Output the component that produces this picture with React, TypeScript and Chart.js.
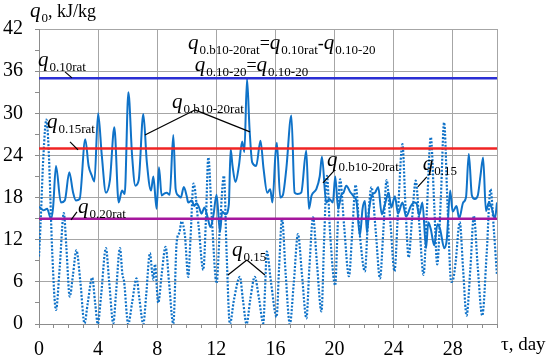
import React, { useEffect, useRef } from 'react';
import { Chart, registerables } from 'chart.js';

Chart.register(...registerables);

// ---- data ----
const solidDays = [
  0.0, 0.3, 0.55, 0.81, 0.95, 1.15, 1.48, 1.75, 2.05, 2.3, 2.5, 2.75, 3.13, 3.36, 3.58, 3.75,
  4.0, 4.25, 4.53, 4.8, 5.1, 5.39, 5.62, 5.8, 6.05, 6.3, 6.52, 6.75, 7.06, 7.3, 7.58, 7.74,
  7.96, 8.12, 8.3, 8.5, 8.64, 8.85, 9.09, 9.25, 9.43, 9.6, 9.8, 10.0, 10.1, 10.35, 10.5, 10.67,
  10.85, 11.0, 11.2, 11.4, 11.6, 11.8, 12.02, 12.25, 12.4, 12.63, 12.85, 12.97, 13.1, 13.3,
  13.53, 13.75, 13.9, 14.08, 14.25, 14.43, 14.7, 14.99, 15.2, 15.45, 15.65, 15.8, 16.0, 16.1,
  16.33, 16.5, 16.74, 17.08, 17.3, 17.5, 17.75, 18.09, 18.27, 18.45, 18.77, 19.0, 19.15, 19.44,
  19.65, 19.89, 20.05, 20.25, 20.45, 20.61, 20.8, 21.06, 21.25, 21.5, 21.72, 21.9, 22.06, 22.2,
  22.35, 22.53, 22.75, 22.96, 23.2, 23.41, 23.66, 23.85, 24.09, 24.3, 24.6, 24.85, 25.17, 25.4,
  25.55, 25.73, 25.95, 26.2, 26.35, 26.52, 26.75, 26.97, 27.15, 27.43, 27.6, 27.83, 28.0, 28.26,
  28.44, 28.71, 28.9, 29.09, 29.3, 29.5, 29.7, 29.88, 30.06, 30.25, 30.45, 30.63, 30.86, 31.0,
];
const solidValues = [
  16.7, 16.2, 16.4, 15.0, 16.5, 22.5, 17.3, 17.6, 21.6, 18.8, 17.6, 17.8, 26.3, 22.5, 21.1, 20.3,
  30.0, 24.0, 18.7, 20.5, 28.0, 17.3, 19.0, 18.5, 33.0, 24.0, 19.7, 20.5, 29.9, 23.0, 19.0, 21.0,
  16.4, 22.3, 18.3, 18.6, 18.7, 18.4, 26.9, 19.2, 18.3, 18.0, 19.5, 18.2, 17.3, 17.6, 16.8, 17.2,
  16.5, 15.7, 16.6, 15.3, 13.8, 15.4, 18.4, 13.1, 16.0, 15.6, 17.0, 24.9, 22.5, 20.2,
  22.5, 26.0, 24.5, 34.9, 27.8, 23.0, 22.5, 26.1, 22.1, 18.7, 19.2, 17.3, 24.0, 25.8,
  18.0, 18.3, 22.1, 29.7, 18.7, 18.5, 18.7, 24.7, 16.4, 18.3, 19.2, 21.0, 23.8, 17.3,
  17.8, 17.3, 21.0, 16.4, 18.3, 18.7, 19.7, 18.8, 18.3, 17.3, 12.6, 16.4, 17.5, 13.0,
  16.4, 18.3, 18.7, 19.5, 15.6, 17.0, 18.7, 16.6, 18.2, 15.7, 17.3, 15.3, 16.8, 17.3,
  17.2, 15.5, 17.3, 10.8, 14.5, 13.5, 11.2, 14.2, 13.5, 10.8, 12.0, 19.0, 16.0, 16.8,
  15.0, 17.3, 18.0, 24.2, 18.3, 17.8, 18.3, 21.1, 23.7, 16.1, 17.3, 16.6, 15.0, 17.3,
];

const dottedDays = [
  0.0, 0.1, 0.3, 0.5, 0.65, 0.9, 1.15, 1.4, 1.68, 1.85, 2.08, 2.3, 2.53, 2.8, 3.08, 3.3, 3.6,
  3.8, 3.98, 4.2, 4.53, 4.75, 5.03, 5.2, 5.48, 5.65, 5.75, 6.04, 6.3, 6.6, 6.8, 7.06, 7.25,
  7.51, 7.65, 7.74, 7.85, 8.07, 8.3, 8.57, 8.8, 9.09, 9.32, 9.5, 9.65, 9.88, 10.1, 10.25,
  10.46, 10.8, 11.12, 11.3, 11.46, 11.7, 12.02, 12.25, 12.52, 12.7, 12.92, 13.2, 13.6, 13.8,
  14.05, 14.3, 14.6, 14.9, 15.18, 15.3, 15.42, 15.7, 16.08, 16.25, 16.45, 16.7, 16.98, 17.25,
  17.53, 17.8, 18.1, 18.3, 18.55, 18.8, 19.12, 19.3, 19.49, 19.7, 20.05, 20.2, 20.38, 20.65,
  20.98, 21.2, 21.43, 21.7, 22.06, 22.25, 22.5, 22.8, 23.08, 23.3, 23.53, 23.8, 24.06, 24.3,
  24.6, 24.8, 25.02, 25.25, 25.5, 25.75, 26.03, 26.25, 26.52, 26.75, 26.95, 27.2, 27.42, 27.65,
  27.9, 28.05, 28.2, 28.48, 28.7, 28.94, 29.2, 29.43, 29.7, 30.0, 30.3, 30.56, 30.8, 31.0,
];
const dottedValues = [
  9.6, 14, 24, 29.1, 25, 10, 2.0, 8, 15.8, 11, 3.9, 7, 10.5, 6, 0.1, 3, 6.6,
  3, 0.0, 4, 10.8, 6, 0.1, 4, 10.8, 7, 6.2, 0.0, 3, 6.5, 3.5, 0.0, 4,
  10.1, 7.5, 6.3, 8.5, 3.0, 7, 11.0, 6, 0.0, 11.7, 13, 14.6, 12.5, 6.7, 12,
  20.0, 14, 7.7, 15, 23.7, 15, 5.8, 14, 21.1, 10, 0.0, 3.5, 6.7, 3.5,
  0.0, 3.5, 6.7, 3.5, 0.1, 5, 10.3, 6, 1.0, 8, 15.0, 7, 0.0, 6,
  12.8, 7, 0.8, 8, 15.2, 9, 1.8, 12, 21.1, 13, 5.5, 13, 20.6, 14,
  6.8, 13, 19.8, 13, 7.5, 14, 19.5, 13, 6.5, 13, 20.5, 14, 7.5, 16,
  25.6, 17, 9.5, 15, 20.4, 14, 7.0, 16, 26.6, 17, 8.5, 18, 28.7, 17,
  6.0, 6.5, 8.8, 14.5, 8, 1.2, 8, 15.4, 8, 1.2, 10, 19.2, 13, 6.9,
];

const refValues = [35, 25, 15];
const refColors = ['#2b2fd4', '#f02424', '#a5179d'];
const xRange = [0, 31];
const yRange = [0, 42];
const xLabelStep = 4;
const yLabelStep = 6;

const FAMILY = '"Liberation Serif", "Times New Roman", serif';
const LINE_BLUE = '#0f72c8';

type Part = { t: string; k: 'q' | 's' | 'n' };
const q = (sub: string): Part[] => [{ t: 'q', k: 'q' }, { t: sub, k: 's' }];

const labels: { day: number; value: number; parts: Part[] }[] = [
  { day: -0.07, value: 36.75, parts: q('0.10rat') },
  { day: 0.54, value: 27.9, parts: q('0.15rat') },
  { day: 2.64, value: 15.8, parts: q('0.20rat') },
  { day: 9.0, value: 30.75, parts: q('0.b10-20rat') },
  {
    day: 10.08,
    value: 39.2,
    parts: [...q('0.b10-20rat'), { t: '=', k: 'n' }, ...q('0.10rat'), { t: '-', k: 'n' }, ...q('0.10-20')],
  },
  { day: 10.55, value: 36.05, parts: [...q('0.10-20'), { t: '=', k: 'n' }, ...q('0.10-20')] },
  { day: 19.49, value: 22.5, parts: q('0.b10-20rat') },
  { day: 25.98, value: 21.9, parts: q('0.15') },
  { day: 13.06, value: 9.7, parts: q('0.15') },
];

const leaders: [number, number, number, number][] = [
  [1.76, 35.9, 2.23, 35.04],
  [2.1, 25.93, 2.64, 24.79],
  [2.57, 15.95, 2.17, 14.81],
  [10.55, 30.48, 7.17, 26.92],
  [10.55, 30.48, 14.28, 27.35],
  [20.03, 21.94, 19.22, 20.09],
  [26.25, 20.94, 25.64, 19.52],
  [14.07, 9.12, 12.79, 6.98],
  [14.07, 9.12, 15.29, 6.98],
];

function drawParts(ctx: CanvasRenderingContext2D, x: number, y: number, parts: Part[]) {
  ctx.textBaseline = 'alphabetic';
  ctx.textAlign = 'left';
  for (const p of parts) {
    if (p.k === 'q') {
      ctx.font = `italic 21px ${FAMILY}`;
      ctx.fillText(p.t, x, y);
      x += ctx.measureText(p.t).width + 1;
    } else if (p.k === 's') {
      ctx.font = `13px ${FAMILY}`;
      ctx.fillText(p.t, x, y + 5);
      x += ctx.measureText(p.t).width;
    } else {
      ctx.font = `18px ${FAMILY}`;
      ctx.fillText(p.t, x, y);
      x += ctx.measureText(p.t).width;
    }
  }
}

const annotationPlugin = {
  id: 'annotations',
  beforeDatasetsDraw(chart: any) {
    const { ctx, chartArea } = chart;
    ctx.save();
    ctx.strokeStyle = '#a6a6a6';
    ctx.lineWidth = 1;
    ctx.beginPath();
    ctx.moveTo(Math.round(chartArea.right) + 0.5, chartArea.top);
    ctx.lineTo(Math.round(chartArea.right) + 0.5, chartArea.bottom);
    ctx.stroke();
    ctx.restore();
  },
  afterDraw(chart: any) {
    const { ctx, chartArea } = chart;
    const xs = chart.scales.x;
    const ys = chart.scales.y;
    ctx.save();
    ctx.fillStyle = '#000';
    ctx.strokeStyle = '#000';
    ctx.lineWidth = 1.2;
    for (const [d1, v1, d2, v2] of leaders) {
      ctx.beginPath();
      ctx.moveTo(xs.getPixelForValue(d1), ys.getPixelForValue(v1));
      ctx.lineTo(xs.getPixelForValue(d2), ys.getPixelForValue(v2));
      ctx.stroke();
    }
    for (const l of labels) {
      drawParts(ctx, xs.getPixelForValue(l.day), ys.getPixelForValue(l.value), l.parts);
    }
    drawParts(ctx, chartArea.left - 9, chartArea.top - 12, [
      { t: 'q', k: 'q' },
      { t: '0', k: 's' },
      { t: ', kJ/kg', k: 'n' },
    ]);
    ctx.font = `19px ${FAMILY}`;
    ctx.textAlign = 'left';
    ctx.fillText('\u03c4, day', chartArea.right + 4, chartArea.bottom + 26);
    ctx.restore();
  },
};

export default function App() {
  const ref = useRef<HTMLCanvasElement | null>(null);
  useEffect(() => {
    if (!ref.current) return;
    const toPts = (xs: number[], ys: number[]) => xs.map((x, i) => ({ x, y: ys[i] }));
    const datasets: any[] = refValues.map((v, i) => ({
      data: [
        { x: xRange[0], y: v },
        { x: xRange[1], y: v },
      ],
      borderColor: refColors[i],
      borderWidth: 2.5,
      pointRadius: 0,
    }));
    datasets.push({
      data: toPts(solidDays, solidValues),
      borderColor: LINE_BLUE,
      borderWidth: 2,
      pointRadius: 0,
      cubicInterpolationMode: 'monotone',
    });
    datasets.push({
      data: toPts(dottedDays, dottedValues),
      borderColor: LINE_BLUE,
      borderWidth: 2.2,
      borderDash: [2, 1.6],
      pointRadius: 0,
      cubicInterpolationMode: 'monotone',
    });

    const chart = new Chart(ref.current, {
      type: 'line',
      data: { datasets },
      options: {
        animation: false,
        responsive: false,
        maintainAspectRatio: false,
        layout: { padding: { left: 0, right: 53, top: 29, bottom: 0 } },
        plugins: { legend: { display: false }, tooltip: { enabled: false } },
        scales: {
          x: {
            type: 'linear',
            min: xRange[0],
            max: xRange[1],
            afterBuildTicks: (s: any) => {
              const t = [];
              for (let v = xRange[0]; v <= xRange[1]; v += 1) t.push({ value: v });
              s.ticks = t;
            },
            afterFit: (s: any) => {
              s.height = 36;
            },
            grid: {
              color: (c: any) => (c.tick && c.tick.value % xLabelStep === 0 ? '#a6a6a6' : 'rgba(0,0,0,0)'),
              tickColor: '#8c8c8c',
              tickLength: 4,
              lineWidth: 1,
            },
            border: { color: '#8c8c8c', width: 1 },
            ticks: {
              autoSkip: false,
              maxRotation: 0,
              padding: 10,
              color: '#000',
              font: { family: FAMILY, size: 20 },
              callback: (v: any) => (Number(v) % xLabelStep === 0 ? String(v) : ''),
            },
          },
          y: {
            type: 'linear',
            min: yRange[0],
            max: yRange[1],
            afterBuildTicks: (s: any) => {
              const t = [];
              for (let v = yRange[0]; v <= yRange[1]; v += yLabelStep / 2) t.push({ value: v });
              s.ticks = t;
            },
            afterFit: (s: any) => {
              s.width = 39;
            },
            grid: {
              color: (c: any) => (c.tick && c.tick.value % yLabelStep === 0 ? '#a6a6a6' : 'rgba(0,0,0,0)'),
              tickColor: '#8c8c8c',
              tickLength: 4,
              lineWidth: 1,
            },
            border: { color: '#8c8c8c', width: 1 },
            ticks: {
              autoSkip: false,
              padding: 12,
              color: '#000',
              font: { family: FAMILY, size: 20 },
              callback: (v: any) => (Number(v) % yLabelStep === 0 ? String(v) : ''),
            },
          },
        },
      },
      plugins: [annotationPlugin],
    });
    return () => chart.destroy();
  }, []);

  return (
    <div style={{ position: 'absolute', left: 0, top: 0, width: 550, height: 360, background: '#fff' }}>
      <canvas ref={ref} width={550} height={360} style={{ width: 550, height: 360 }} />
    </div>
  );
}
